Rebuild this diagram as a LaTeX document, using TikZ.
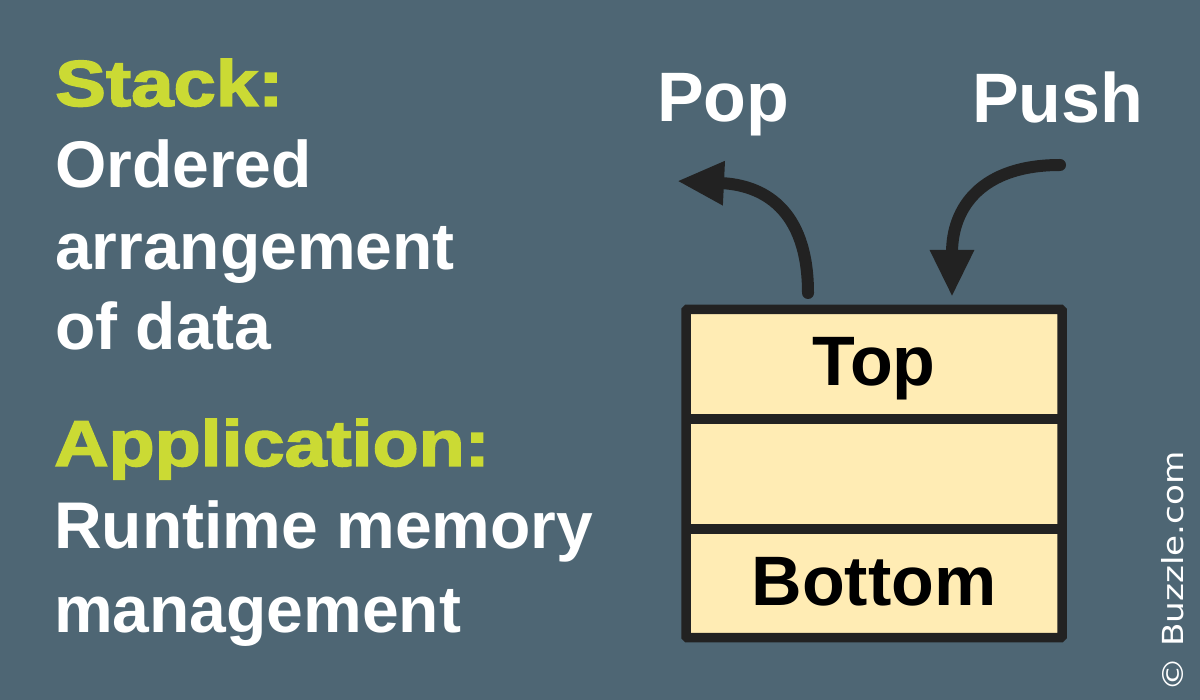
\documentclass[tikz,border=0pt]{standalone}
\usepackage{fontspec}
\setmainfont{Liberation Sans}
\newfontfamily\dejavu{DejaVu Sans}
\newfontfamily\heavy{Liberation Sans}[BoldFeatures={FakeBold=2.2}]
\usetikzlibrary{arrows.meta,fit}
\definecolor{bg}{RGB}{78,102,116}
\definecolor{hl}{RGB}{203,218,52}
\definecolor{cellfill}{RGB}{255,236,180}
\definecolor{ink}{RGB}{34,34,34}
\tikzset{
  heading/.style={anchor=base west, inner sep=0pt, text=hl, font=\heavy\bfseries\fontsize{65}{65}\selectfont},
  body/.style={anchor=base west, inner sep=0pt, text=white, font=\bfseries\fontsize{66}{66}\selectfont},
  oplabel/.style={anchor=base west, inner sep=0pt, text=white, font=\bfseries\fontsize{70}{70}\selectfont},
  cell/.style={rectangle, fill=cellfill, inner sep=0pt, outer sep=0pt, minimum width=376pt,
    text height=43.5pt, text depth=0pt, text=black, font=\bfseries\fontsize{70}{70}\selectfont},
  frame/.style={draw=ink, line width=9.5pt, rounded corners=1pt, inner sep=0pt, outer sep=0pt},
  divider/.style={draw=ink, line width=10pt},
  arrowline/.style={draw=ink, line width=12pt, line cap=round, -{Triangle[length=47pt,width=41pt]}},
  credit/.style={anchor=base west, inner sep=0pt, rotate=90, text=white, font=\dejavu\fontsize{29}{29}\selectfont},
}
\begin{document}
\begin{tikzpicture}[x=1pt,y=-1pt]
\useasboundingbox (0,0) rectangle (1200,700);
\fill[bg] (0,0) rectangle (1200,700);

% left texts
\node[heading] (stack) at (55,106) {\scalebox{1.17}[1]{Stack:}};
\node[body] (ordered) at (55,188) {Ordered};
\node[body] (arrangement) at (55,270) {arrangement};
\node[body] (ofdata) at (55,350) {of data};
\node[heading] (application) at (54,466) {\scalebox{1.16}[1]{Application:}};
\node[body] (runtime) at (54,548) {Runtime memory};
\node[body] (management) at (54,632) {management};

% operation labels
\node[oplabel] (pop) at (657,122) {Pop};
\node[oplabel] (push) at (972,123) {Push};

% stack cells
\node[cell, minimum height=109.5pt] (c1) at (874,364.25) {Top};
\node[cell, minimum height=110pt] (c2) at (874,474) {};
\node[cell, minimum height=108.5pt] (c3) at (874,583.25) {Bottom};
\draw[divider] (c1.south west) -- (c1.south east);
\draw[divider] (c2.south west) -- (c2.south east);
\node[frame, fit=(c1)(c3)] (stackbox) {};

% arrows
\coordinate (popstart) at (808,293);
\coordinate (poptip) at (677,181);
\coordinate (pushstart) at (1060,165);
\coordinate (pushtip) at (952,297);
\draw[arrowline] (popstart) .. controls +(0,-85) and +(85,4) .. (poptip);
\draw[arrowline] (pushstart) .. controls +(-78,0) and +(0,-90) .. (pushtip);

% credit
\node[credit] (credit) at (1183,692) {\scalebox{1.18}[1]{© Buzzle.com}};
\end{tikzpicture}
\end{document}
